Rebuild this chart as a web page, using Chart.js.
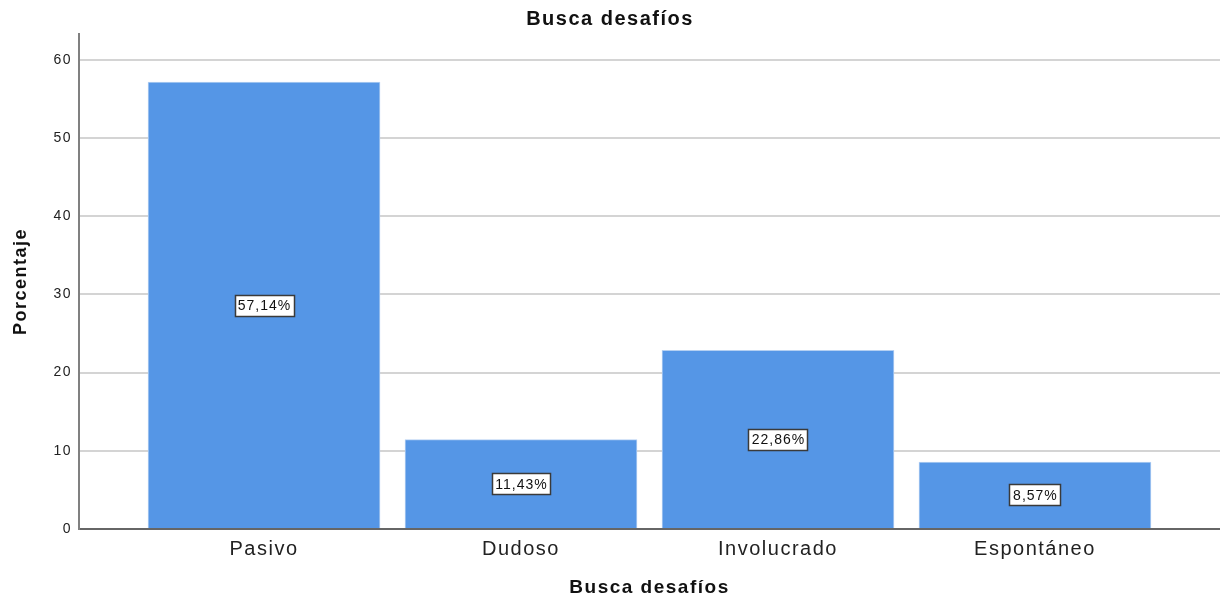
<!DOCTYPE html>
<html>
<head>
<meta charset="utf-8">
<script src="https://cdn.jsdelivr.net/npm/chart.js@4/dist/chart.umd.min.js"></script>
<style>
  html, body { margin: 0; padding: 0; background: #fff; }
  #wrap { width: 1220px; height: 598px; }
</style>
</head>
<body>
<div id="wrap"><canvas id="barChart"></canvas></div>
<script>
const categories = ['Pasivo', 'Dudoso', 'Involucrado', 'Espontáneo'];
const percents = [57.14, 11.43, 22.86, 8.57];
const yTicks = [0, 10, 20, 30, 40, 50, 60];

const points = percents.map((v, i) => ({ x: i, y: v }));
const FONT = '"Liberation Sans", Arial, sans-serif';

// the reference text is a bit wide, so add some letter spacing everywhere
const wideText = {
  id: 'wideText',
  beforeUpdate(chart) { chart.ctx.letterSpacing = '1.5px'; },
  beforeDraw(chart) { chart.ctx.letterSpacing = '1.5px'; }
};

// boxed percentage label in the middle of each bar
const valueBoxes = {
  id: 'valueBoxes',
  afterDatasetsDraw(chart) {
    const ctx = chart.ctx;
    const meta = chart.getDatasetMeta(0);
    ctx.save();
    ctx.font = '14px ' + FONT;
    ctx.letterSpacing = '1px';
    ctx.textAlign = 'center';
    ctx.textBaseline = 'middle';
    meta.data.forEach((bar, i) => {
      const txt = percents[i].toFixed(2).replace('.', ',') + '%';
      const cy = (bar.y + bar.base) / 2;
      const w = Math.round(ctx.measureText(txt).width + 6);
      const h = 21;
      const x0 = Math.round(bar.x - w / 2) + 0.5;
      const y0 = Math.round(cy - h / 2) + 0.5;
      ctx.fillStyle = '#ffffff';
      ctx.fillRect(x0, y0, w, h);
      ctx.strokeStyle = '#3a3a3a';
      ctx.lineWidth = 1.5;
      ctx.strokeRect(x0, y0, w, h);
      ctx.fillStyle = '#111111';
      ctx.fillText(txt, bar.x + 0.5, cy + 1);
    });
    ctx.restore();
  }
};

new Chart(document.getElementById('barChart'), {
  type: 'bar',
  data: {
    datasets: [{
      data: points,
      backgroundColor: '#5596e6',
      borderColor: '#b5d0f2',
      borderWidth: 1,
      barThickness: 232
    }]
  },
  options: {
    responsive: true,
    maintainAspectRatio: false,
    animation: false,
    layout: { padding: 0 },
    scales: {
      x: {
        type: 'linear',
        offset: false,
        min: -0.72,
        max: 3.72,
        afterBuildTicks: s => { s.ticks = categories.map((c, i) => ({ value: i })); },
        afterFit: s => { s.height = 69; },
        ticks: {
          callback: v => categories[v],
          color: '#222',
          padding: 0,
          maxRotation: 0,
          font: { family: FONT, size: 20 }
        },
        grid: { display: false },
        border: { color: '#666', width: 2 },
        title: {
          display: true,
          text: 'Busca desafíos',
          color: '#111',
          padding: { top: 4, bottom: -1 },
          font: { family: FONT, size: 19, weight: 'bold' }
        }
      },
      y: {
        min: 0,
        max: 63.3,
        afterBuildTicks: s => { s.ticks = yTicks.map(v => ({ value: v })); },
        afterFit: s => { s.width = 79; },
        ticks: {
          color: '#222',
          padding: 7,
          font: { family: FONT, size: 14 }
        },
        grid: {
          color: '#d4d4d4',
          lineWidth: 2,
          drawTicks: false
        },
        border: { color: '#808080', width: 2 },
        title: {
          display: true,
          text: 'Porcentaje',
          color: '#111',
          padding: { top: 10 },
          font: { family: FONT, size: 18, weight: 'bold' }
        }
      }
    },
    plugins: {
      legend: { display: false },
      tooltip: { enabled: false },
      title: {
        display: true,
        text: 'Busca desafíos',
        color: '#111',
        padding: { top: 7, bottom: 3 },
        font: { family: FONT, size: 20, weight: 'bold' }
      }
    }
  },
  plugins: [wideText, valueBoxes]
});
</script>
</body>
</html>
